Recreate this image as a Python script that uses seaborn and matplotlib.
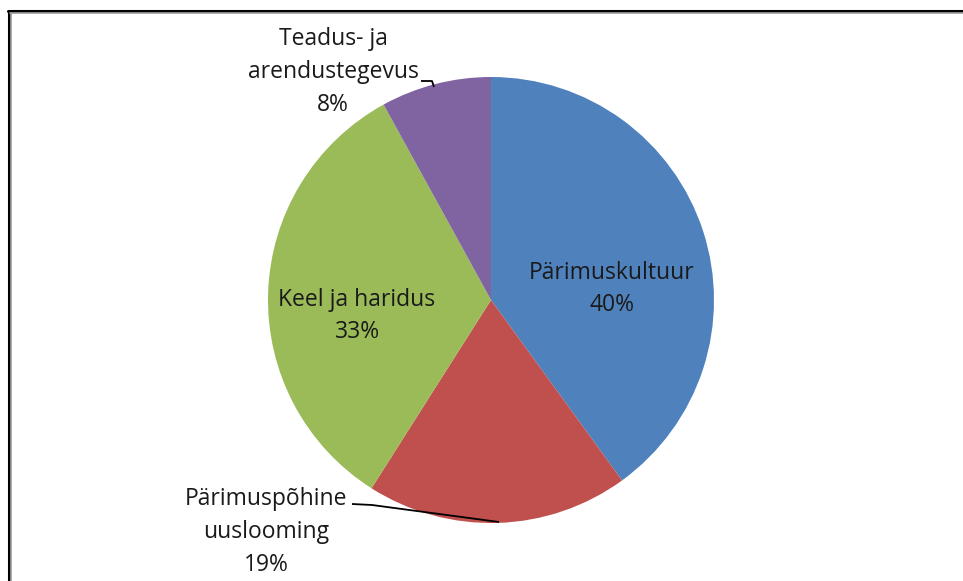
import matplotlib
matplotlib.use("Agg")
import matplotlib.pyplot as plt
from matplotlib.lines import Line2D
import seaborn as sns

categories = ["Pärimuskultuur", "Pärimuspõhine\nuuslooming", "Keel ja haridus", "Teadus- ja\narendustegevus"]
values = [40, 19, 33, 8]
colors = ["#4F81BD", "#C0504D", "#9BBB59", "#8064A2"]

sns.set_theme(style="white")
plt.rcParams['font.family'] = ['Open Sans', 'DejaVu Sans']

W, H = 963, 581
cx, cy, R = 491, 300, 223
fig = plt.figure(figsize=(W / 100, H / 100), dpi=100)
ax = fig.add_axes([0, 0, 1, 1])

wedges, _ = ax.pie(values, colors=colors, startangle=90, counterclock=False,
                   wedgeprops=dict(linewidth=0, edgecolor="none"), radius=1)
ax.set_aspect("auto")
ax.set_xlim(-cx / R, (W - cx) / R)
ax.set_ylim(-(H - cy) / R, cy / R)
ax.axis("off")

def px(x, y):
    return ((x - cx) / R, (cy - y) / R)

label_pos = [(612, 289), (266, 532), (357, 316), (333, 72)]
for cat, v, (lx, ly) in zip(categories, values, label_pos):
    x, y = px(lx, ly)
    ax.text(x, y, f"{cat}\n{v}%", ha="center", va="center", fontsize=16.5,
            color="#1a1a1a", linespacing=1.48)

# leader lines
for pts in [[(421, 81), (432, 81), (434, 87)], [(352, 504), (372, 505), (499, 522)]]:
    xs, ys = zip(*[px(a, b) for a, b in pts])
    ax.plot(xs, ys, color="black", lw=1.3, solid_capstyle="butt")

# frame lines (open on right and bottom)
fig.add_artist(Line2D([8.5 / W, 8.5 / W], [0, 1 - 10.5 / H], color="black", lw=2.2, transform=fig.transFigure))
fig.add_artist(Line2D([10.5 / W, 10.5 / W], [0, 1 - 12.5 / H], color="#A0A0A0", lw=1.2, transform=fig.transFigure))
fig.add_artist(Line2D([7.5 / W, 1], [1 - 11 / H, 1 - 11 / H], color="black", lw=2.2, transform=fig.transFigure))
fig.add_artist(Line2D([10 / W, 1], [1 - 13 / H, 1 - 13 / H], color="#A0A0A0", lw=1.2, transform=fig.transFigure))

fig.savefig("out.png", dpi=100, facecolor="white")
